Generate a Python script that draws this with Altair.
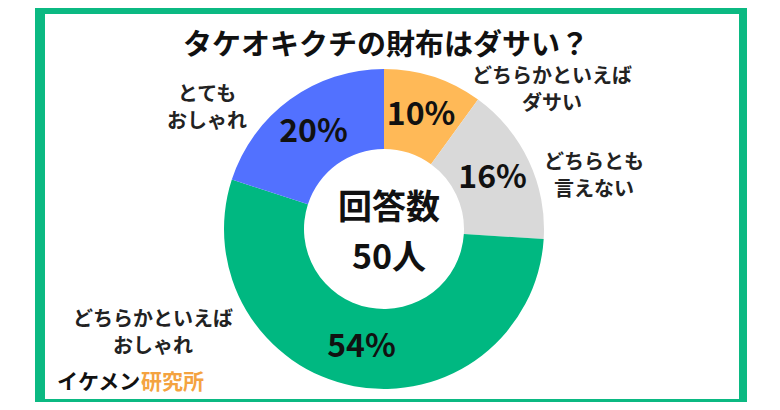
import altair as alt
import pandas as pd

# ---- data ----
categories = ["どちらかといえばダサい", "どちらとも言えない", "どちらかといえばおしゃれ", "とてもおしゃれ"]
label_lines = [["どちらかといえば", "ダサい"], ["どちらとも", "言えない"],
               ["どちらかといえば", "おしゃれ"], ["とても", "おしゃれ"]]
values = [10, 16, 54, 20]
colors = ["#FFB957", "#D9D9D9", "#00B881", "#5271FF"]
title_text = "タケオキクチの財布はダサい？"
center_lines = ["回答数", "50人"]
brand_a = "イケメン"
brand_b = "研究所"

# ---- layout ----
W, H = 764, 394
CX, CY = 376, 221
FONT = "Noto Sans CJK JP"
GREEN = "#0BB982"
label_pos = [(544, 69), (586, 155), (145, 312), (199, 87)]

df = pd.DataFrame({
    "cat": categories,
    "value": values,
    "order": list(range(len(values))),
    "pct": [f"{v}%" for v in values],
})

dummy = alt.Data(values=[{"a": 1}])

frame_outer = alt.Chart(dummy).mark_rect(color=GREEN).encode(
    x=alt.value(27), x2=alt.value(739), y=alt.value(0), y2=alt.value(394))
frame_inner = alt.Chart(dummy).mark_rect(color="white").encode(
    x=alt.value(37), x2=alt.value(731), y=alt.value(6), y2=alt.value(391))

base = alt.Chart(df).encode(
    theta=alt.Theta("value:Q", stack=True),
    order=alt.Order("order:Q"),
    x=alt.value(CX), y=alt.value(CY),
)
arcs = base.mark_arc(outerRadius=160, innerRadius=80).encode(
    color=alt.Color("cat:N", scale=alt.Scale(domain=categories, range=colors), legend=None)
)
pcts = base.mark_text(radius=120, font=FONT, fontSize=32, fontWeight=600,
                      color="#111111").encode(text="pct:N")

layers = [frame_outer, frame_inner, arcs, pcts]

title = alt.Chart(dummy).mark_text(font=FONT, fontSize=29, fontWeight="bold",
                                   color="#111111").encode(
    x=alt.value(378), y=alt.value(38), text=alt.value(title_text))
layers.append(title)

for i, line in enumerate(center_lines):
    layers.append(alt.Chart(dummy).mark_text(font=FONT, fontSize=34, fontWeight="bold",
                                             color="#111111").encode(
        x=alt.value(381), y=alt.value(201 + 50 * i), text=alt.value(line)))

for lines, (px, py) in zip(label_lines, label_pos):
    layers.append(alt.Chart(dummy).mark_text(font=FONT, fontSize=20, fontWeight="bold",
                                             color="#222222", lineHeight=27,
                                             baseline="middle").encode(
        x=alt.value(px), y=alt.value(py), text=alt.value(lines)))

layers.append(alt.Chart(dummy).mark_text(font=FONT, fontSize=21, fontWeight="bold",
                                         color="#111111", align="left").encode(
    x=alt.value(49), y=alt.value(375), text=alt.value(brand_a)))
layers.append(alt.Chart(dummy).mark_text(font=FONT, fontSize=21, fontWeight="bold",
                                         color="#F4A340", align="left").encode(
    x=alt.value(133), y=alt.value(375), text=alt.value(brand_b)))

chart = alt.layer(*layers).properties(
    width=W, height=H, padding=0, autosize="none"
).configure_view(stroke=None)

chart.save("out.html", embed_options={"renderer": "svg", "actions": False})
